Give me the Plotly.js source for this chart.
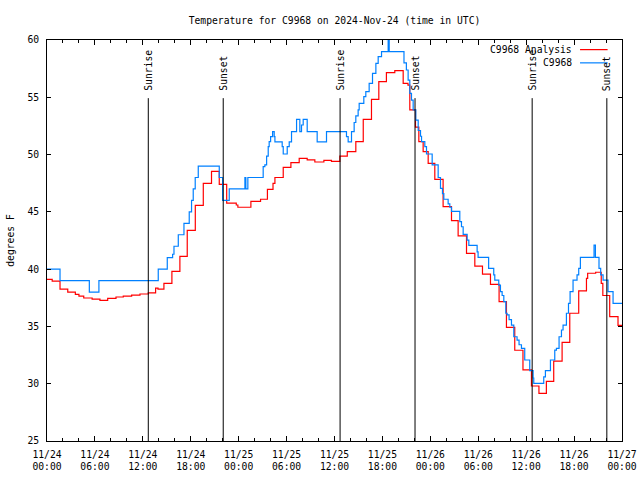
<!DOCTYPE html>
<html>
<head>
<meta charset="utf-8">
<script src="https://cdn.plot.ly/plotly-3.0.1.min.js"></script>
<style>html,body{margin:0;padding:0;background:#fff;}#chart{width:640px;height:480px;}</style>
</head>
<body>
<div id="chart"></div>
<script>
// Hours since 2024-11-24 00:00 UTC at which each reading starts, and its value (deg F)
const analysisHours = [0, 0.65, 1.63, 2.6, 3.55, 4.0, 4.6, 5.65, 6.63, 7.6, 8.64, 9.55, 10.6, 11.64, 12.68, 13.6, 13.9, 14.64, 15.64, 16.64, 17.56, 18.57, 19.57, 20.6, 21.57, 22.5, 23.7, 23.9, 25.53, 26.74, 27.6, 28.3, 28.54, 29.58, 30.54, 31.58, 32.58, 33.54, 34.67, 35.62, 36.67, 37.6, 38.67, 39.6, 40.63, 41.55, 42.5, 43.55, 44.6, 45.2, 45.43, 46.14, 46.56, 47.1, 47.73, 48.56, 49.6, 50.65, 51.48, 52.53, 53.57, 54.53, 55.53, 56.61, 57.53, 58.57, 59.6, 60.66, 61.6, 62.53, 63.45, 64.5, 65.46, 66.58, 67.55, 67.7, 68.7, 69.4, 69.6, 70.46, 71.5, 72];
const analysisTemps = [39.1, 38.95, 38.25, 38.0, 37.8, 37.65, 37.48, 37.39, 37.28, 37.45, 37.57, 37.65, 37.74, 37.83, 37.92, 38.35, 38.25, 38.76, 39.81, 41.12, 43.39, 45.57, 47.49, 48.54, 47.4, 45.77, 45.6, 45.4, 45.92, 46.1, 46.97, 47.49, 48.0, 48.89, 49.3, 49.67, 49.53, 49.35, 49.5, 49.4, 49.87, 50.25, 51.13, 53.08, 54.82, 56.37, 57.15, 57.33, 56.22, 56.07, 53.9, 52.4, 51.13, 50.25, 49.24, 47.84, 45.45, 44.23, 42.9, 41.38, 40.27, 39.57, 38.67, 37.16, 34.92, 32.92, 31.2, 29.8, 29.16, 30.2, 31.98, 33.6, 36.15, 38.1, 39.2, 39.64, 39.73, 38.76, 37.7, 35.85, 35.1, 35.1];

const stationHours = [0, 1.63, 5.3, 6.5, 13.93, 15.06, 15.73, 15.9, 16.44, 17.15, 17.81, 18.1, 18.31, 18.56, 18.94, 21.57, 21.99, 22.82, 24.78, 24.9, 25.15, 27.07, 27.28, 27.5, 27.7, 27.82, 28.0, 28.25, 28.45, 28.54, 29.45, 29.58, 30.08, 30.33, 30.62, 31.25, 31.66, 31.87, 32.08, 32.58, 33.83, 35.0, 37.5, 37.71, 38.13, 38.46, 38.67, 38.96, 39.09, 39.67, 39.92, 40.34, 40.76, 41.18, 41.47, 41.89, 42.72, 42.85, 44.7, 45.0, 45.22, 45.43, 45.64, 45.85, 46.18, 46.48, 46.77, 46.9, 47.31, 47.52, 48.23, 48.98, 49.27, 49.52, 49.69, 50.23, 50.44, 50.65, 51.69, 51.9, 52.11, 52.61, 52.82, 53.86, 53.98, 55.3, 55.94, 56.07, 56.57, 56.78, 56.99, 57.2, 57.45, 57.61, 57.86, 58.16, 58.45, 58.86, 59.11, 59.41, 59.82, 60.45, 60.87, 60.95, 62.2, 62.41, 63.04, 63.58, 63.79, 64.12, 64.42, 64.62, 65.04, 65.3, 65.5, 65.87, 66.37, 66.58, 66.79, 68.5, 68.67, 69.12, 69.33, 69.63, 70.25, 70.88, 72];
const stationTemps = [40, 39, 38, 39, 40, 41, 41.3, 42, 43, 44, 45, 46, 47, 48, 49, 48, 46, 47, 48, 47, 48, 48.94, 49.1, 49.87, 50.7, 51.13, 51.56, 52.0, 51.56, 51.1, 50.7, 50.05, 50.7, 51.1, 52.0, 53.08, 52.0, 52.58, 53.08, 52.0, 51.1, 52.0, 51.56, 51.1, 52.0, 52.8, 53.37, 53.9, 54.47, 55.05, 55.49, 56.22, 57.09, 57.96, 58.55, 58.98, 61, 58.98, 58.0, 57.38, 56.5, 55.35, 54.76, 53.9, 53.0, 52.1, 51.6, 51.13, 50.7, 50.05, 49.1, 48.0, 47.05, 46.6, 46.1, 45.7, 45.4, 45.05, 44.14, 43.7, 43.04, 42.54, 42.07, 41.5, 41.03, 40.07, 39.5, 39.05, 38.6, 38.04, 37.7, 37.16, 36.15, 36.0, 35.6, 35.12, 34.1, 33.8, 33.4, 33.09, 32.07, 31.14, 30.5, 30.03, 30.6, 31.14, 32.07, 32.94, 33.09, 34.1, 34.69, 35.12, 36.15, 37.02, 38.04, 39.05, 39.5, 40.07, 41.03, 42.1, 41.03, 40.07, 39.5, 39.05, 38.04, 37.02, 37.02];

const sunTimes = ['2024-11-24 12:41', '2024-11-24 22:04', '2024-11-25 12:42', '2024-11-25 22:05', '2024-11-26 12:45', '2024-11-26 22:06'];
const sunLabels = ['Sunrise', 'Sunset', 'Sunrise', 'Sunset', 'Sunrise', 'Sunset'];

const seriesNames = ['C9968 Analysis', 'C9968'];
const seriesColors = ['#ff0000', '#0080ff'];

const startMs = Date.UTC(2024, 10, 24, 0, 0);
const toMs = h => startMs + h * 3600000;

const FONT = 'DejaVu Sans Mono, Liberation Mono, monospace';
const FS = 9.7;

const traces = [
  {x: analysisHours.map(toMs), y: analysisTemps, name: seriesNames[0], type: 'scatter', mode: 'lines',
   line: {shape: 'hv', color: seriesColors[0], width: 1.2}},
  {x: stationHours.map(toMs), y: stationTemps, name: seriesNames[1], type: 'scatter', mode: 'lines',
   line: {shape: 'hv', color: seriesColors[1], width: 1.2}}
];

const shapes = [];
const annotations = [];
sunTimes.forEach((t, i) => {
  shapes.push({type: 'line', xref: 'x', yref: 'paper', x0: t, x1: t, y0: 0, y1: 0.855,
    line: {color: '#000', width: 1}});
  annotations.push({xref: 'x', yref: 'paper', x: t, y: 0.868, text: sunLabels[i], showarrow: false,
    textangle: -90, xanchor: 'center', yanchor: 'bottom', font: {family: FONT, size: FS, color: '#000'}});
});

// gnuplot-style key: text on the left, line sample on the right
const keyRows = [0.976, 0.943];
seriesNames.forEach((n, i) => {
  annotations.push({xref: 'paper', yref: 'paper', x: 0.917, y: keyRows[i], text: n, showarrow: false,
    xanchor: 'right', yanchor: 'middle', font: {family: FONT, size: FS, color: '#000'}});
  shapes.push({type: 'line', xref: 'paper', yref: 'paper', x0: 0.927, x1: 0.975, y0: keyRows[i], y1: keyRows[i],
    line: {color: seriesColors[i], width: 1.2}});
});

const layout = {
  width: 640, height: 480,
  margin: {l: 47, r: 18, t: 40, b: 39},
  paper_bgcolor: '#fff', plot_bgcolor: '#fff',
  showlegend: false,
  font: {family: FONT, size: FS, color: '#000'},
  title: {text: 'Temperature for C9968 on 2024-Nov-24 (time in UTC)', font: {family: FONT, size: FS, color: '#000'},
    x: 0.5, xref: 'paper', y: 1 - 21 / 480, yref: 'container', yanchor: 'middle'},
  xaxis: {
    type: 'date', range: ['2024-11-24 00:00', '2024-11-27 00:00'],
    tick0: '2024-11-24 00:00', dtick: 6 * 3600000, tickformat: '%m/%d<br>%H:%M',
    ticks: 'inside', ticklen: 5, tickcolor: '#000', tickwidth: 1, ticklabelstandoff: 4,
    minor: {dtick: 2 * 3600000, ticks: 'inside', ticklen: 3, tickcolor: '#000', showgrid: false},
    showline: true, linecolor: '#000', linewidth: 1, mirror: 'allticks',
    showgrid: false, zeroline: false, tickfont: {family: FONT, size: FS, color: '#000'}
  },
  yaxis: {
    range: [25, 60], dtick: 5, tick0: 25,
    ticks: 'inside', ticklen: 4, tickcolor: '#000', tickwidth: 1, ticklabelstandoff: 5,
    showline: true, linecolor: '#000', linewidth: 1, mirror: 'allticks',
    showgrid: false, zeroline: false, tickfont: {family: FONT, size: FS, color: '#000'},
    title: {text: 'degrees F', font: {family: FONT, size: FS, color: '#000'}, standoff: 10}
  },
  shapes: shapes,
  annotations: annotations
};

Plotly.newPlot('chart', traces, layout, {displayModeBar: false, staticPlot: true});
</script>
</body>
</html>
